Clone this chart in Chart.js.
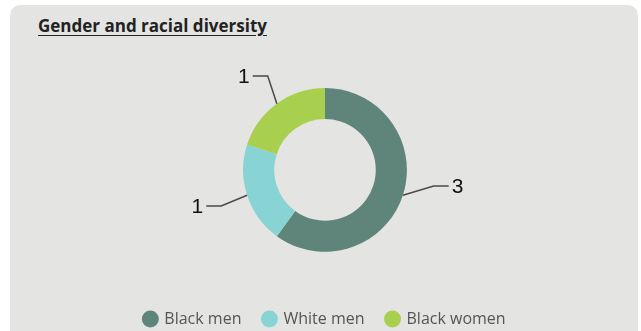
<!DOCTYPE html>
<html>
<head>
<meta charset="utf-8">
<script src="https://cdn.jsdelivr.net/npm/chart.js@4"></script>
<style>
	html, body { margin: 0; padding: 0; background: #fff; }
	#wrap { position: relative; width: 641px; height: 331px; overflow: hidden; }
	#card { position: absolute; left: 10px; top: 5px; width: 628px; height: 340px; background: #e4e4e3; border-radius: 10px; }
	#title { position: absolute; left: 38px; top: 14px; font-family: 'Open Sans', sans-serif; font-weight: bold; font-size: 17px; color: #222; text-decoration: underline; text-underline-offset: 3px; }
	#box { position: absolute; left: 0; top: 0; width: 641px; height: 337px; }
</style>
</head>
<body>
<div id="wrap">
	<div id="card"></div>
	<div id="title">Gender and racial diversity</div>
	<div id="box"><canvas id="diversityChart"></canvas></div>
</div>
<script>
var categories = ['Black men', 'White men', 'Black women'];
var counts = [3, 1, 1];
var sliceColors = ['#5f857b', '#88d3d3', '#a8cf4d'];

// leader lines with value labels, drawn off each arc
var leaderLabels = {
	id: 'leaderLabels',
	afterDatasetsDraw: function(chart, args, opts) {
		var ctx = chart.ctx;
		var meta = chart.getDatasetMeta(0);
		var tilt = opts.tilt || [];
		ctx.save();
		ctx.strokeStyle = '#4a4a4a';
		ctx.lineWidth = 1.5;
		ctx.fillStyle = '#111';
		ctx.font = '21px "Liberation Sans", Arial, sans-serif';
		ctx.textBaseline = 'middle';
		meta.data.forEach(function(arc, i) {
			var mid = (arc.startAngle + arc.endAngle) / 2;
			var r = arc.outerRadius;
			var x0 = arc.x + Math.cos(mid) * r, y0 = arc.y + Math.sin(mid) * r;
			var a = mid + (tilt[i] || 0) * Math.PI / 180;
			var x1 = arc.x + Math.cos(a) * (r + 28), y1 = arc.y + Math.sin(a) * (r + 28);
			var dir = Math.cos(a) >= 0 ? 1 : -1;
			var x2 = x1 + dir * 15;
			ctx.beginPath();
			ctx.moveTo(x0, y0);
			ctx.lineTo(x1, y1);
			ctx.lineTo(x2, y1);
			ctx.stroke();
			ctx.textAlign = dir > 0 ? 'left' : 'right';
			ctx.fillText(String(counts[i]), x2 + dir * 3, y1 + 1);
		});
		ctx.restore();
	}
};

new Chart(document.getElementById('diversityChart'), {
	type: 'doughnut',
	data: {
		labels: categories,
		datasets: [{
			data: counts,
			backgroundColor: sliceColors,
			borderWidth: 0,
			hoverOffset: 0
		}]
	},
	options: {
		responsive: true,
		maintainAspectRatio: false,
		animation: false,
		cutout: '62%',
		layout: { padding: { left: 9, right: 0, top: 88, bottom: 0 } },
		plugins: {
			legend: {
				position: 'bottom',
				title: { display: true, text: '', font: { size: 1 }, padding: { top: 36, bottom: 0 } },
				labels: {
					usePointStyle: true,
					pointStyle: 'circle',
					boxWidth: 12,
					boxHeight: 12,
					padding: 22,
					color: '#555',
					font: { family: "'Open Sans', sans-serif", size: 16 }
				}
			},
			leaderLabels: { tilt: [-9.6, -1.2, 4.6] },
			tooltip: { enabled: false }
		}
	},
	plugins: [leaderLabels]
});
</script>
</body>
</html>
